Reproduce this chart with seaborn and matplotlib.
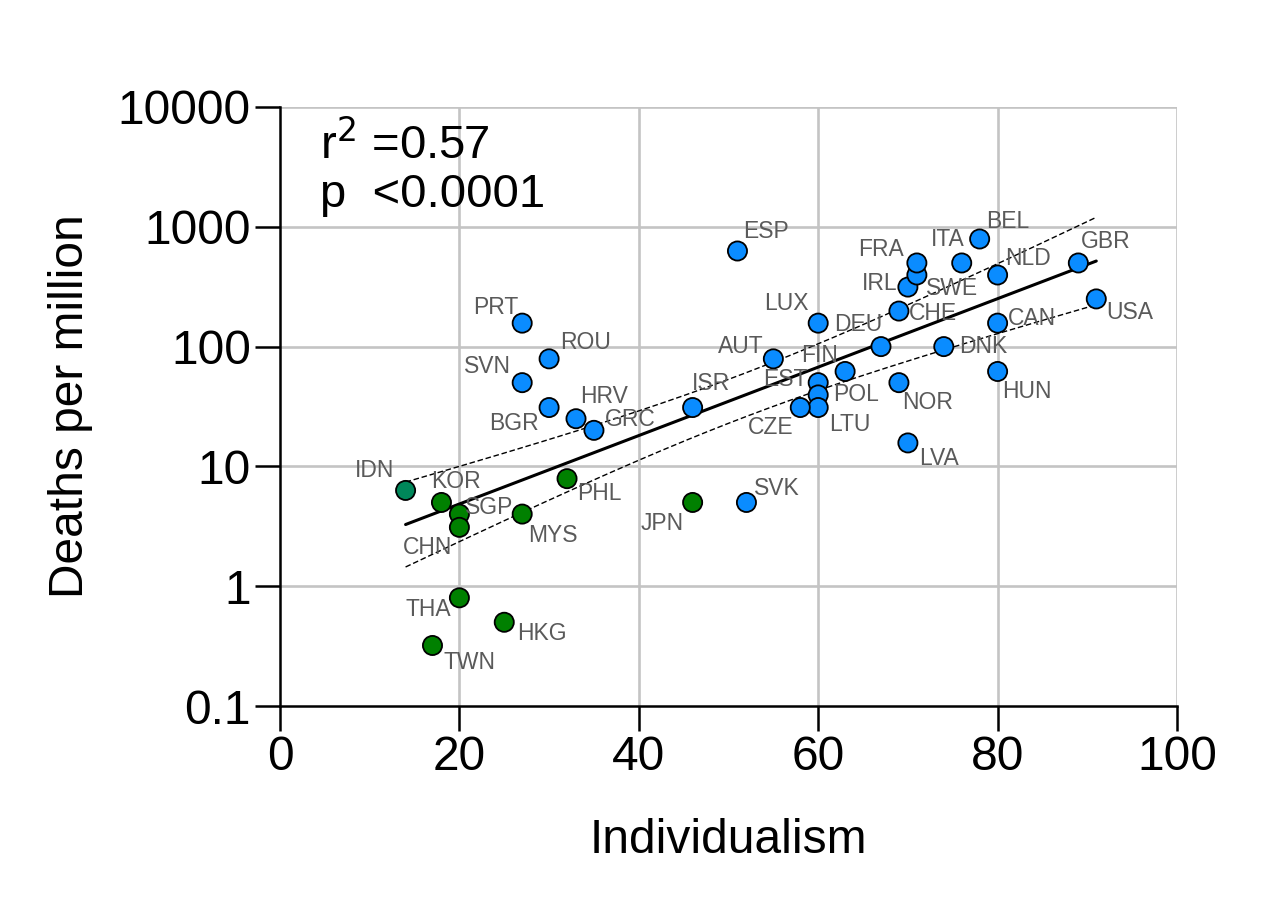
import numpy as np
import pandas as pd
import matplotlib
matplotlib.use("Agg")
import matplotlib.pyplot as plt
import seaborn as sns

countries = ["IDN", "KOR", "SGP", "CHN", "MYS", "PHL", "JPN", "THA", "HKG", "TWN",
             "SVK", "PRT", "ROU", "SVN", "BGR", "HRV", "GRC", "ISR", "AUT", "ESP",
             "LUX", "DEU", "FIN", "EST", "POL", "LTU", "CZE", "NOR", "LVA", "DNK",
             "HUN", "CAN", "NLD", "CHE", "IRL", "SWE", "FRA", "ITA", "BEL", "GBR", "USA"]
individualism = [14, 18, 20, 20, 27, 32, 46, 20, 25, 17,
                 52, 27, 30, 27, 30, 33, 35, 46, 55, 51,
                 60, 67, 63, 60, 60, 60, 58, 69, 70, 74,
                 80, 80, 80, 69, 70, 71, 71, 76, 78, 89, 91]
deaths = [6.3, 5.0, 4.0, 3.1, 4.0, 7.9, 5.0, 0.8, 0.5, 0.32,
          5.0, 157, 79, 50, 31, 25, 20, 31, 79, 628,
          157, 100, 62, 50, 39.5, 31, 31, 50, 15.7, 100,
          62, 157, 396, 198, 314, 396, 499, 499, 791, 499, 250]
region = ["Asia-IDN"] + ["Asia"] * 9 + ["Other"] * 31

# label offsets (pixels, right / down) for annotation placement
label_dx = [-31, 14, 30, -32, 31, 32, -30, -31, 38, 37,
            30, -26, 36, -35, -35, 28, 36, 18, -33, 29,
            -32, -23, -26, -33, 38, 32, -30, 29, 31, 39,
            29, 34, 30, 34, -28, 35, -36, -14, 28, 27, 33]
label_dy = [-20, -21, -7, 20, 21, 15, 21, 12, 11, 17,
            -14, -16, -16, -16, 16, -22, -11, -24, -12, -20,
            -20, -22, -16, -3, 0, 17, 20, 20, 16, 0,
            20, -5, -16, 2, -4, 14, -13, -23, -17, -21, 14]

yticks = [0.1, 1, 10, 100, 1000, 10000]
ytick_labels = ["0.1", "1", "10", "100", "1000", "10000"]
xticks = [0, 20, 40, 60, 80, 100]

df = pd.DataFrame({"country": countries, "Individualism": individualism,
                   "Deaths": deaths, "region": region})

sns.set_style("white")
plt.rcParams["font.family"] = ["Liberation Sans", "DejaVu Sans"]
plt.rcParams["text.color"] = "black"
plt.rcParams["axes.labelcolor"] = "black"
plt.rcParams["xtick.color"] = "black"
plt.rcParams["ytick.color"] = "black"

fig = plt.figure(figsize=(12.81, 9.17), dpi=100)
ax = fig.add_axes([280 / 1281, 1 - 706 / 917, 897 / 1281, 599 / 917])

ax.set_yscale("log")
ax.set_xlim(0, 100)
ax.set_ylim(0.1, 10000)

# grid
for xv in xticks[1:]:
    ax.axvline(xv, color="#c4c4c4", lw=1.9, zorder=0)
for yv in yticks[1:]:
    ax.axhline(yv, color="#c4c4c4", lw=1.9, zorder=0)

# regression on log10(deaths)
x = np.array(individualism, dtype=float)
ly = np.log10(np.array(deaths, dtype=float))
n = len(x)
b, a = np.polyfit(x, ly, 1)
resid = ly - (a + b * x)
s = np.sqrt(np.sum(resid ** 2) / (n - 2))
xbar = x.mean()
sxx = np.sum((x - xbar) ** 2)
tval = 2.023
xs = np.linspace(x.min(), x.max(), 200)
fit = a + b * xs
se = s * np.sqrt(1 / n + (xs - xbar) ** 2 / sxx)
ax.plot(xs, 10 ** fit, color="black", lw=2.2, zorder=2)
ax.plot(xs, 10 ** (fit + tval * se), color="black", lw=1.0, ls=(0, (4, 2)), zorder=2)
ax.plot(xs, 10 ** (fit - tval * se), color="black", lw=1.0, ls=(0, (4, 2)), zorder=2)

sns.scatterplot(data=df, x="Individualism", y="Deaths", hue="region",
                palette={"Asia-IDN": "#00875a", "Asia": "#008000", "Other": "#0a8cff"},
                s=190, edgecolor="black", linewidth=1.3, legend=False, ax=ax, zorder=3)

for c, xv, yv, dx, dy in zip(countries, individualism, deaths, label_dx, label_dy):
    ax.annotate(c, (xv, yv), xytext=(dx * 0.72, -dy * 0.72), textcoords="offset points",
                ha="center", va="center", fontsize=16.5, color="#5a5a5a", zorder=4)

ax.set_xticks(xticks)
ax.set_xticklabels([str(v) for v in xticks])
ax.set_yticks(yticks)
ax.set_yticklabels(ytick_labels)
ax.yaxis.set_minor_locator(matplotlib.ticker.NullLocator())
ax.tick_params(axis="both", which="major", direction="out", length=18, width=1.8,
               labelsize=34.5, color="black", labelcolor="black", pad=3,
               left=True, bottom=True)

for side in ["top", "right"]:
    ax.spines[side].set_visible(False)
for side in ["left", "bottom"]:
    ax.spines[side].set_linewidth(1.8)
    ax.spines[side].set_color("black")

ax.set_xlabel("Individualism", fontsize=34.5, labelpad=27, color="black")
ax.set_ylabel("Deaths per million", fontsize=34.5, labelpad=18, color="black")

ax.text(0.045, 0.975, r"r$^2$ =0.57", transform=ax.transAxes, fontsize=34,
        va="top", ha="left", color="black")
ax.text(0.045, 0.89, "p  <0.0001", transform=ax.transAxes, fontsize=34,
        va="top", ha="left", color="black")

fig.savefig("out.png", dpi=100)
